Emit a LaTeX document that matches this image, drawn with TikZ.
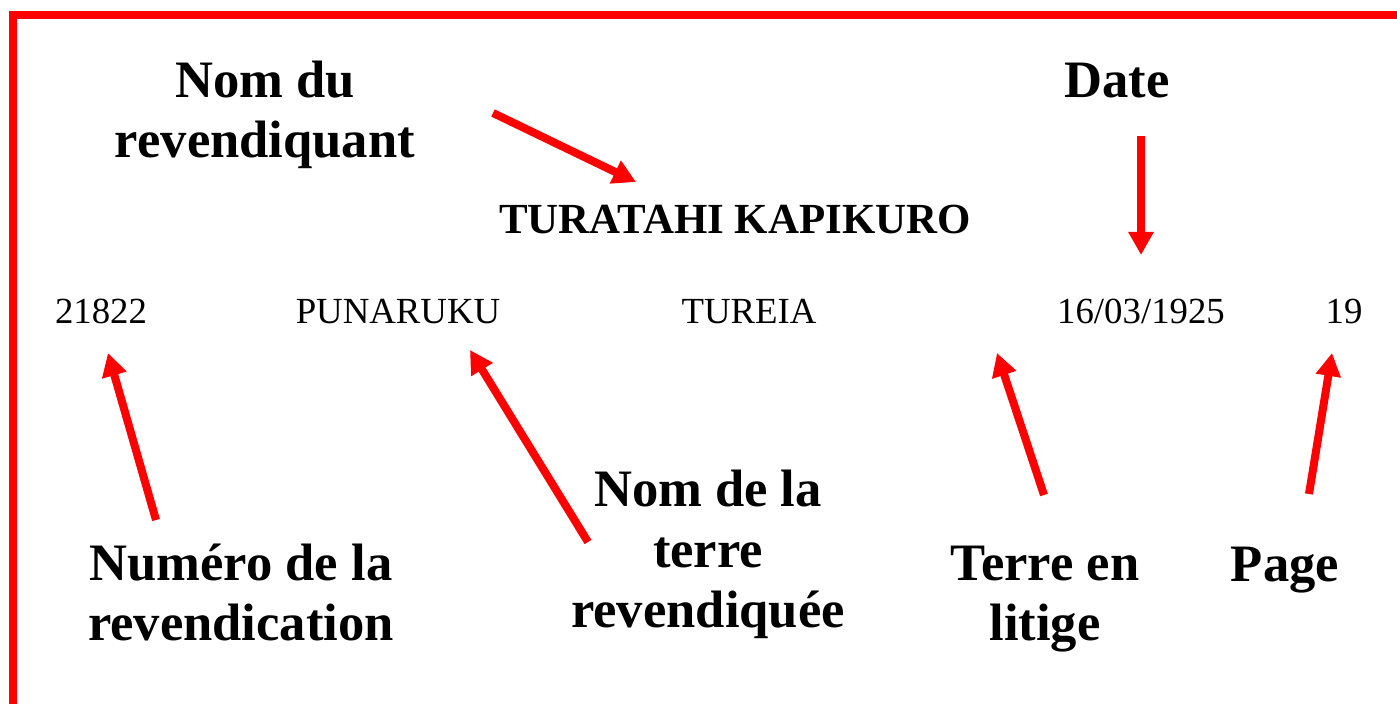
\documentclass[tikz,border=0pt]{standalone}
\usepackage{fontspec}
\setmainfont{Liberation Serif}
\usepackage{tikz}
\usetikzlibrary{arrows.meta}
\usetikzlibrary{positioning}
\tikzset{lbl/.style = {inner sep = 0, anchor = base, align = center,
    font = \bfseries\fontsize{26.3}{30.3}\selectfont}}
\tikzset{val/.style = {inner sep = 0, anchor = base, font = \fontsize{18.4}{22}\selectfont}}
\tikzset{arr/.style = {bred, line width = 4pt, -{Triangle[width = 12pt, length = 11.5pt]}}}
\definecolor{bred}{rgb}{1, 0, 0}

\begin{document}
\begin{tikzpicture}[x=0.5pt, y=-0.5pt]
    \useasboundingbox (0, 0) rectangle (1397, 704);
    \draw [bred, line width = 4pt] (12.5, 704) |- (1397, 15.5);

    % top labels (base = last line)
    \node [lbl] (nomrev) at (265, 158) {Nom du\\revendiquant};
    \node [lbl] (date) at (1117, 98) {Date};

    % claimant
    \node [lbl, font = \bfseries\fontsize{21.45}{25}\selectfont] (claimant) at (735, 234) {TURATAHI KAPIKURO};

    % record line
    \node [val] (numero) at (101, 324) {21822};
    \node [val] (terre) at (398, 324) {PUNARUKU};
    \node [val] (litige) at (749, 324) {TUREIA};
    \node [val] (jour) at (1141, 324) {16/03/1925};
    \node [val] (page) at (1344, 324) {19};

    % bottom labels
    \node [lbl] (numlbl) at (241, 641) {Numéro de la\\revendication};
    \node [lbl] (terrelbl) at (708, 628) {Nom de la\\terre\\revendiquée};
    \node [lbl] (litigelbl) at (1045, 641) {Terre en\\litige};
    \node [lbl] (pagelbl) at (1285, 582) {Page};

    % arrow ends
    \coordinate (nomtail) at (493, 113);
    \coordinate (nomtip) at (636, 182);
    \coordinate (datetail) at (1141, 136);
    \coordinate (datetip) at (1141, 255);
    \coordinate (numtail) at (156, 520);
    \coordinate (numtip) at (108, 353);
    \coordinate (terretail) at (588, 542);
    \coordinate (terretip) at (470, 350);
    \coordinate (litigetail) at (1044, 495);
    \coordinate (litigetip) at (997, 353);
    \coordinate (pagetail) at (1309, 494);
    \coordinate (pagetip) at (1332, 353);

    \draw [arr] (nomtail) -- (nomtip);
    \draw [arr] (datetail) -- (datetip);
    \draw [arr] (numtail) -- (numtip);
    \draw [arr] (terretail) -- (terretip);
    \draw [arr] (litigetail) -- (litigetip);
    \draw [arr] (pagetail) -- (pagetip);
\end{tikzpicture}
\end{document}
